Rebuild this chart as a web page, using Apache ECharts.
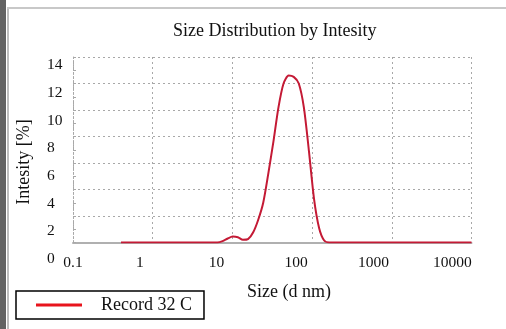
<!DOCTYPE html>
<html>
<head>
<meta charset="utf-8">
<script src="https://cdn.jsdelivr.net/npm/echarts@6/dist/echarts.min.js"></script>
<style>
  html, body { margin: 0; padding: 0; background: #fff; }
  #chart { width: 506px; height: 329px; }
</style>
</head>
<body>
<div id="chart"></div>
<script>
// size bins (d nm) and intensity (%)
var sizes = [0.4, 5.615, 6.503, 7.531, 8.721, 10.1, 11.7, 13.54, 15.69, 18.17, 21.04, 24.36,
  28.21, 32.67, 37.84, 43.82, 50.75, 58.77, 68.06, 78.82, 91.28, 105.7, 122.4, 141.8,
  164.2, 190.1, 10000];
var intensity = [0, 0, 0, 0.1, 0.3, 0.45, 0.4, 0.2, 0.25, 0.75, 1.7, 3.0,
  5.2, 7.6, 10.2, 12.0, 12.6, 12.5, 12.0, 10.2, 6.9, 3.3, 1.1, 0.15,
  0, 0, 0];
var xTickLabels = ["0.1", "1", "10", "100", "1000", "10000"];
var yTickLabels = ["0", "2", "4", "6", "8", "10", "12", "14"];
var seriesName = "Record 32 C";

var serif = '"Liberation Serif", "Times New Roman", serif';
var gridGray = "#a8a8a8";

// where the printed x labels sit (in decades from the left edge)
var xLabelPos = [0.0, 0.84, 1.80, 2.80, 3.77, 4.76];

var chart = echarts.init(document.getElementById("chart"));

var option = {
  backgroundColor: "#fff",
  animation: false,
  title: {
    text: "Size Distribution by Intesity",
    left: 173,
    top: 22,
    padding: 0,
    textStyle: { fontFamily: serif, fontSize: 18, fontWeight: "normal", color: "#111" }
  },
  legend: {
    left: 16,
    top: 291,
    data: [seriesName],
    icon: "rect",
    itemWidth: 46,
    itemHeight: 3,
    itemStyle: { color: "#e8141c" },
    borderColor: "#000",
    borderWidth: 1.5,
    borderRadius: 0,
    padding: [4, 12, 4, 20],
    textStyle: { fontFamily: serif, fontSize: 18, color: "#111", lineHeight: 20, padding: [0, 0, 0, 14] }
  },
  grid: [
    // plot area
    { left: 73, right: 34.5, top: 57, bottom: 86.5 },
    // y tick labels (printed a little off the grid lines)
    { left: 73, right: 34.5, top: 65, bottom: 70 },
    // x tick labels
    { left: 73, right: 34.5, top: 57, bottom: 86.5 }
  ],
  xAxis: [
    {
      type: "log",
      gridIndex: 0,
      min: 0.1,
      max: 10000,
      logBase: 10,
      axisLine: { show: true, lineStyle: { color: "#b0b0b0", width: 2 } },
      axisTick: { show: false },
      axisLabel: { show: false },
      splitLine: { show: true, lineStyle: { color: gridGray, type: [2, 3], width: 1 } }
    },
    {
      type: "value",
      gridIndex: 1,
      show: false
    },
    {
      type: "value",
      gridIndex: 2,
      min: 0,
      max: 5,
      axisLine: { show: false },
      axisTick: { show: false },
      splitLine: { show: false },
      axisLabel: {
        customValues: xLabelPos,
        margin: 12,
        fontFamily: serif,
        fontSize: 15.5,
        color: "#111",
        formatter: function (v) {
          var i = xLabelPos.indexOf(v);
          return i >= 0 ? xTickLabels[i] : "";
        }
      }
    }
  ],
  yAxis: [
    {
      type: "value",
      gridIndex: 0,
      min: 0,
      max: 14,
      interval: 2,
      axisLine: { show: true, lineStyle: { color: gridGray, type: [2, 2] } },
      axisTick: { show: true, inside: true, length: 3, lineStyle: { color: gridGray } },
      minorTick: { show: true, splitNumber: 2, length: 3, lineStyle: { color: gridGray } },
      axisLabel: { show: false },
      splitLine: { show: true, lineStyle: { color: gridGray, type: [2, 3], width: 1 } }
    },
    {
      type: "value",
      gridIndex: 1,
      min: 0,
      max: 14,
      interval: 2,
      name: "Intesity [%]",
      nameLocation: "middle",
      nameGap: 40,
      nameTextStyle: { fontFamily: serif, fontSize: 18, color: "#111" },
      axisLine: { show: false },
      axisTick: { show: false },
      splitLine: { show: false },
      axisLabel: {
        margin: 26,
        align: "left",
        fontFamily: serif,
        fontSize: 15.5,
        color: "#111",
        formatter: function (v) {
          return yTickLabels[Math.round(v / 2)];
        }
      }
    },
    {
      type: "value",
      gridIndex: 2,
      show: false
    }
  ],
  graphic: [
    { type: "rect", left: 0, top: 0, shape: { width: 6, height: 329 }, style: { fill: "#626262" } },
    { type: "rect", left: 7, top: 7, shape: { width: 2, height: 322 }, style: { fill: "#bdbdbd" } },
    { type: "rect", left: 7, top: 7, shape: { width: 499, height: 2 }, style: { fill: "#c8c8c8" } },
    {
      type: "text",
      left: 247,
      top: 283,
      style: { text: "Size (d nm)", font: "18px " + serif, fill: "#111" }
    }
  ],
  series: [
    {
      name: seriesName,
      type: "line",
      xAxisIndex: 0,
      yAxisIndex: 0,
      showSymbol: false,
      smooth: 0.25,
      lineStyle: { color: "#c41a35", width: 2 },
      itemStyle: { color: "#c41a35" },
      data: sizes.map(function (s, i) { return [s, intensity[i]]; })
    }
  ]
};

chart.setOption(option);
</script>
</body>
</html>
